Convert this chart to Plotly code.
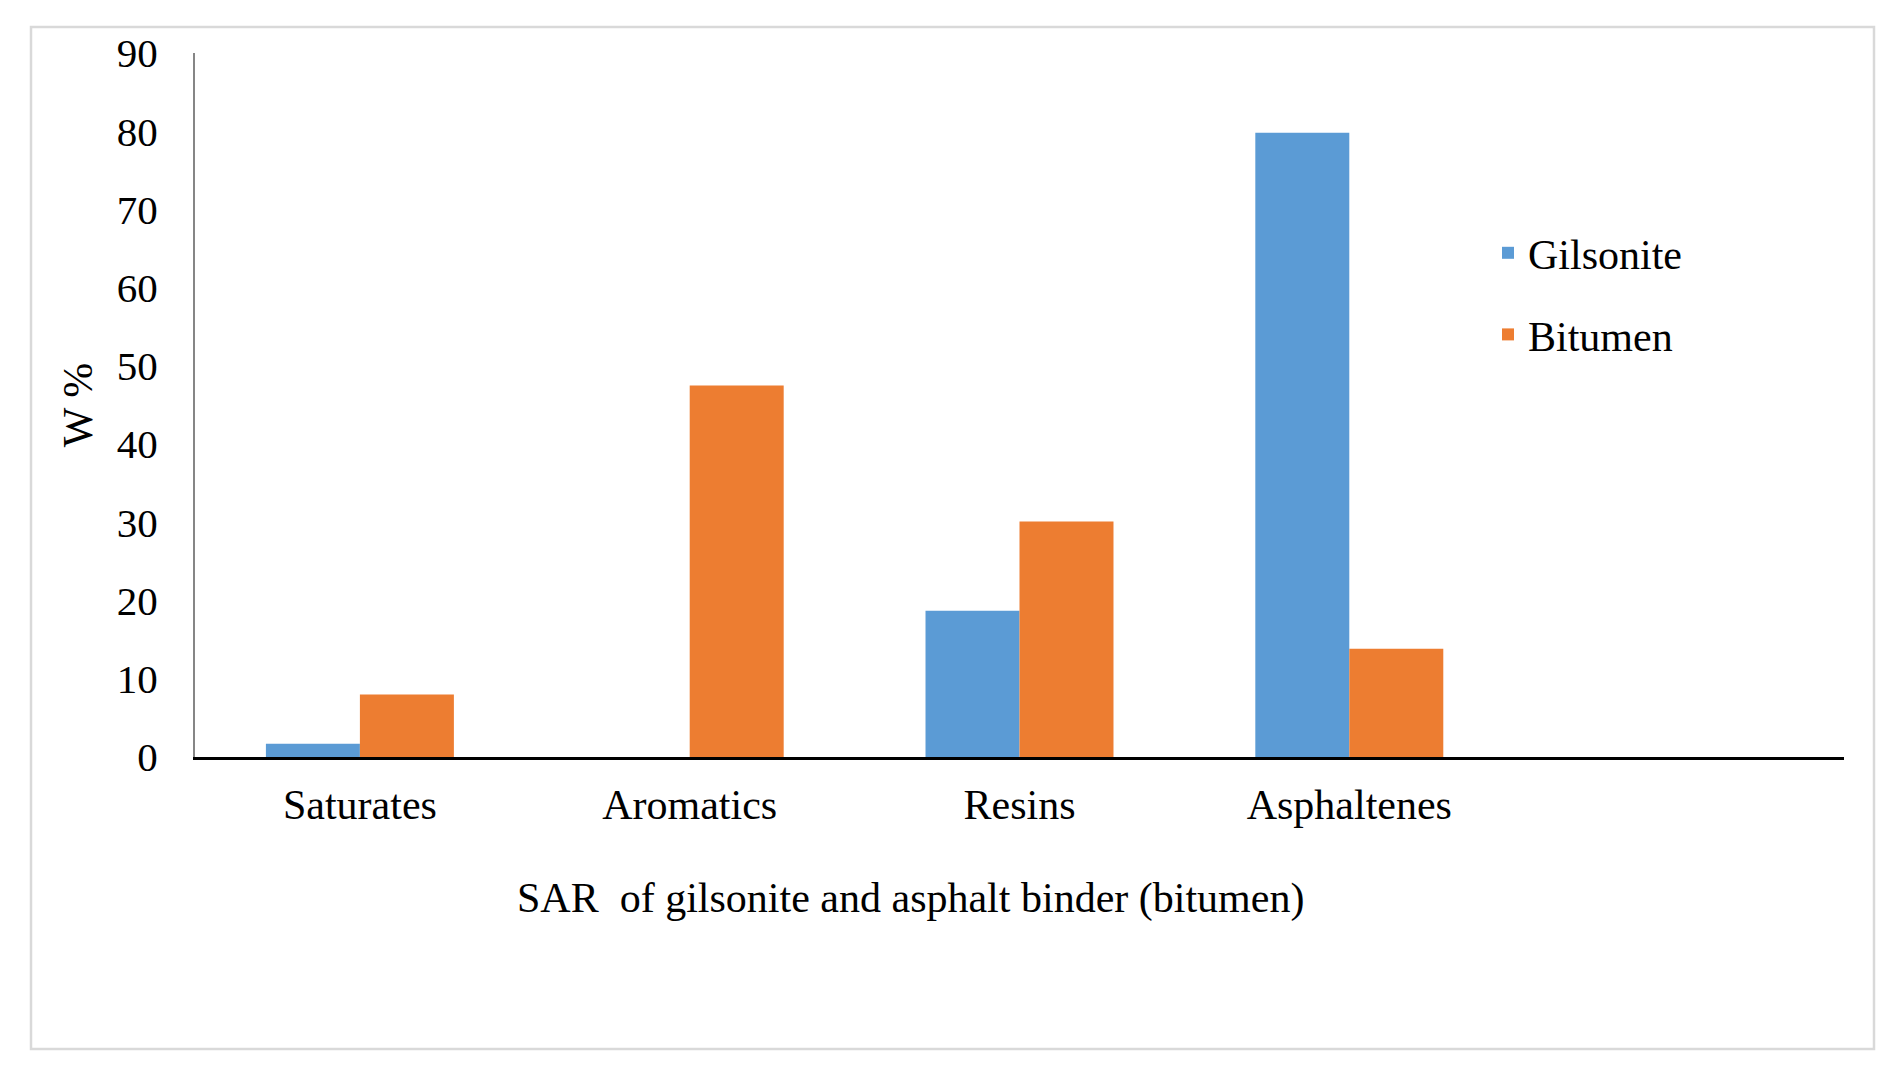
import plotly.graph_objects as go

categories = ["Saturates", "Aromatics", "Resins", "Asphaltenes"]
gilsonite = [1.7, 0, 18.7, 79.8]
bitumen = [8.0, 47.5, 30.1, 13.85]
y_ticks = [0, 10, 20, 30, 40, 50, 60, 70, 80, 90]
x_title = "SAR  of gilsonite and asphalt binder (bitumen)"
y_title = "W %"

FONT = "Liberation Serif, Times New Roman, serif"

fig = go.Figure()
fig.add_trace(go.Bar(name="Gilsonite", x=categories, y=gilsonite,
                     marker=dict(color="#5B9BD5", line=dict(width=0)),
                     legendgroup="g"))
fig.add_trace(go.Bar(name="Bitumen", x=categories, y=bitumen,
                     marker=dict(color="#ED7D31", line=dict(width=0)),
                     legendgroup="b"))

W, H = 1902, 1075
L, R, T, B = 195, 1844, 53, 757

def px_x(p):
    return (p - L) / (R - L)

def px_y(p):
    return (B - p) / (B - T)

fig.update_layout(
    width=W, height=H,
    margin=dict(l=L, r=W - R, t=T, b=H - B, pad=0),
    paper_bgcolor="white", plot_bgcolor="white",
    barmode="group", bargap=0.43, bargroupgap=0,
    font=dict(family=FONT, size=42, color="#000000"),
    showlegend=True,
    legend=dict(x=px_x(1488), y=px_y(219), xanchor="left", yanchor="top",
                font=dict(family=FONT, size=42, color="#000000"),
                traceorder="grouped", tracegroupgap=24,
                bgcolor="rgba(0,0,0,0)"),
    xaxis=dict(type="category", range=[-0.5, 4.5], showgrid=False,
               showline=True, linecolor="#000000", linewidth=3,
               ticks="", ticklabelstandoff=9, zeroline=False,
               tickfont=dict(family=FONT, size=42, color="#000000")),
    yaxis=dict(range=[0, 90], tickvals=y_ticks, showgrid=False,
               showline=True, linecolor="#868686", linewidth=2,
               ticks="", ticklabelstandoff=27, zeroline=False,
               tickfont=dict(family=FONT, size=41, color="#000000"),
               title=dict(text=y_title, standoff=11,
                          font=dict(family=FONT, size=42, color="#000000"))),
    shapes=[dict(type="rect", xref="paper", yref="paper",
                 x0=px_x(31), x1=px_x(1874), y0=px_y(1049), y1=px_y(27),
                 line=dict(color="#D9D9D9", width=2.5), layer="below")],
    annotations=[dict(text=x_title, xref="paper", yref="paper",
                      x=px_x(910), y=px_y(898), xanchor="center", yanchor="middle",
                      showarrow=False,
                      font=dict(family=FONT, size=42, color="#000000"))],
)

fig.write_html("out.html", config={"displayModeBar": False},
               post_script="document.body.style.margin='0';")
